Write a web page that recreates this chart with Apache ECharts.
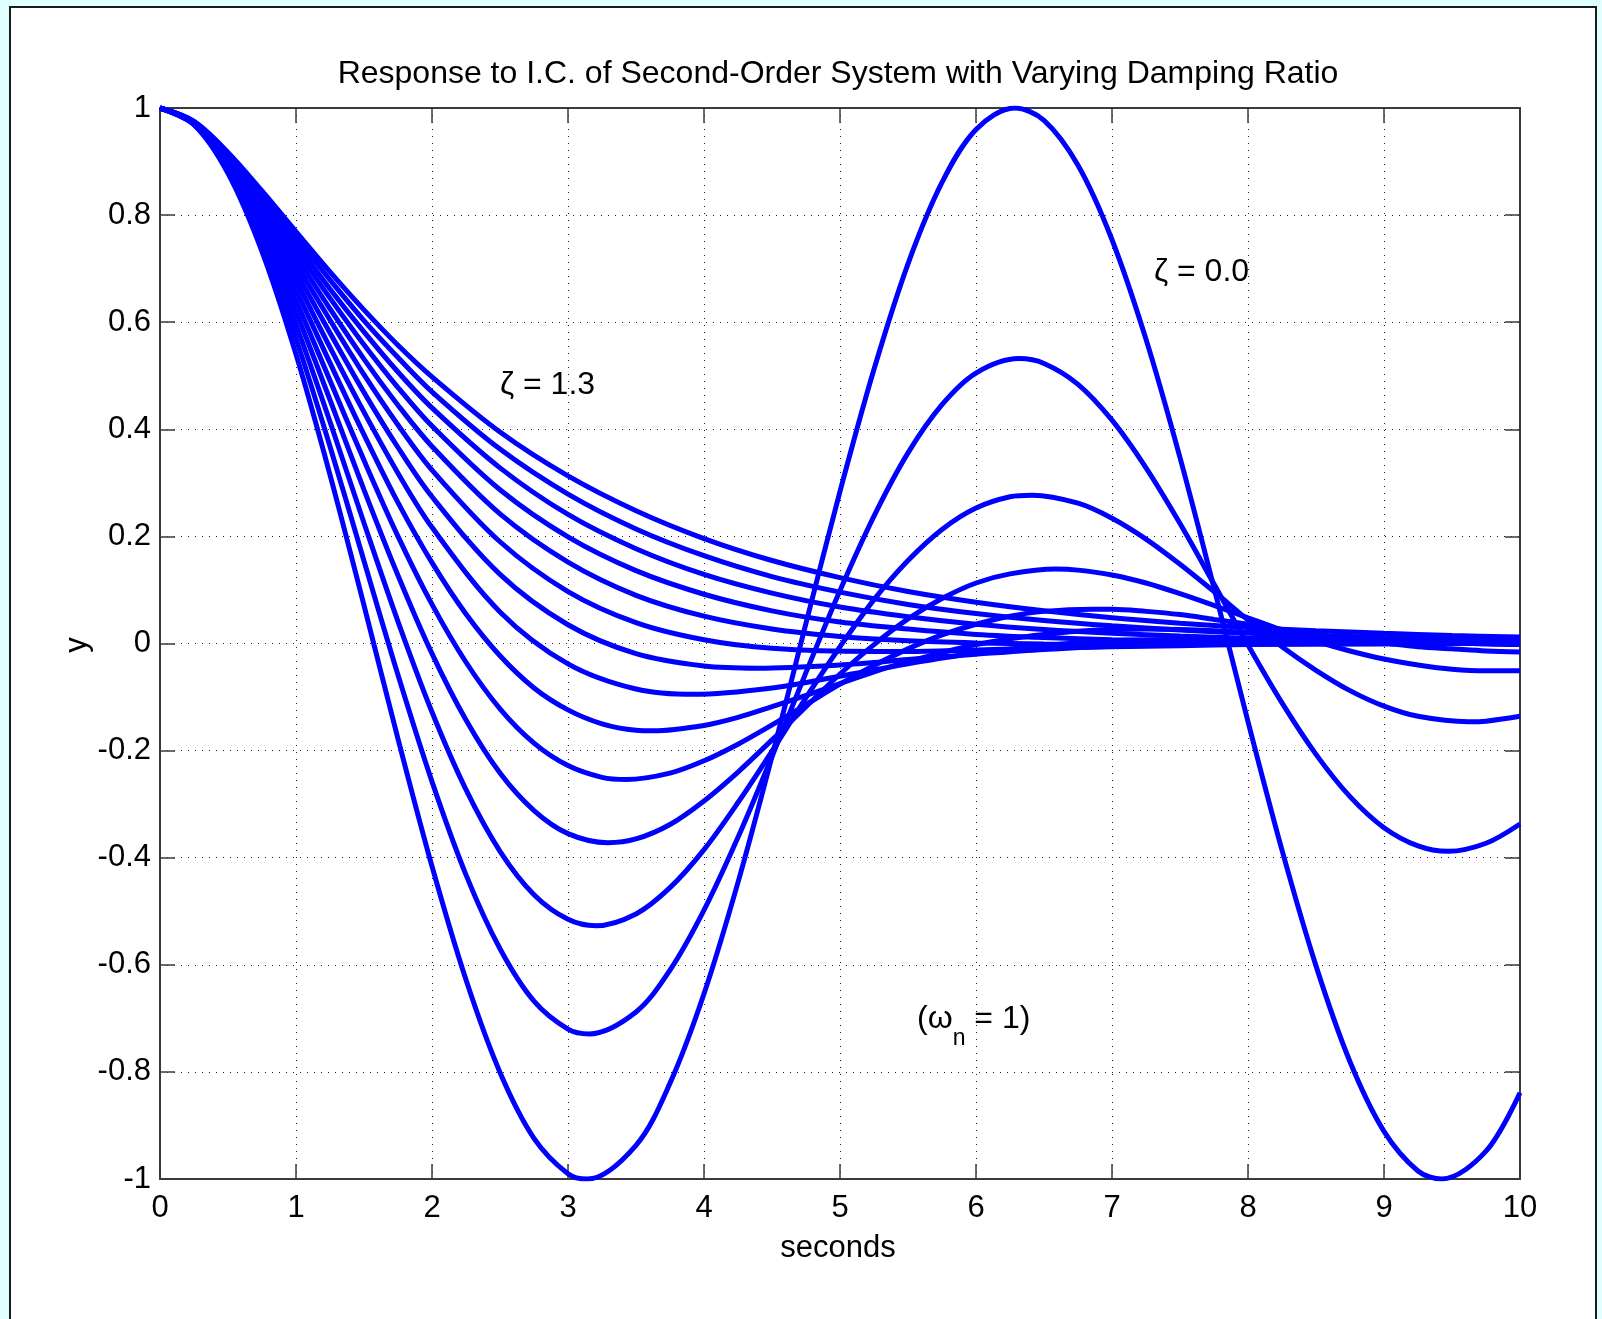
<!DOCTYPE html>
<html>
<head>
<meta charset="utf-8">
<title>Response to I.C. of Second-Order System with Varying Damping Ratio</title>
<script src="https://cdn.jsdelivr.net/npm/echarts@6.0.0/dist/echarts.min.js"></script>
<style>
  html, body { margin: 0; padding: 0; width: 1602px; height: 1319px; overflow: hidden; background: #e0ffff; }
  #frame { position: absolute; left: 9px; top: 6px; width: 1584px; height: 1400px; border: 2px solid #1a1a1a; background: #fff; }
  #chart { position: absolute; left: 0; top: 0; width: 1602px; height: 1319px; }
</style>
</head>
<body>
<div id="frame"></div>
<div id="chart"></div>
<script>
// tiempos de muestreo (segundos)
const tFine = [0, 0.25, 0.5, 0.75, 1, 1.25, 1.5, 1.75, 2, 2.25, 2.5, 2.75, 3, 3.25, 3.5, 3.75,
  4, 4.25, 4.5, 4.75, 5, 5.25, 5.5, 5.75, 6, 6.25, 6.5, 6.75, 7, 7.25, 7.5, 7.75,
  8, 8.25, 8.5, 8.75, 9, 9.25, 9.5, 9.75, 10];
const tMixed = [0, 0.25, 0.5, 0.75, 1, 1.25, 1.5, 1.75, 2, 2.5, 3, 3.5, 4, 4.5, 5, 5.5,
  6, 6.5, 7, 7.5, 8, 8.5, 9, 9.5, 10];

// respuesta y(t) para cada razon de amortiguamiento
const zeta00 = [1, 0.969, 0.878, 0.732, 0.540, 0.315, 0.071, -0.178, -0.416, -0.628, -0.801, -0.924, -0.990, -0.994, -0.937, -0.821,
  -0.654, -0.446, -0.211, 0.038, 0.284, 0.512, 0.709, 0.861, 0.960, 1.000, 0.977, 0.893, 0.754, 0.568, 0.347, 0.104,
  -0.146, -0.386, -0.602, -0.781, -0.911, -0.985, -0.997, -0.948, -0.839];
const zeta01 = [1, 0.969, 0.882, 0.745, 0.569, 0.368, 0.154, -0.059, -0.258, -0.432, -0.570, -0.668, -0.720, -0.726, -0.688, -0.610,
  -0.498, -0.362, -0.211, -0.054, 0.099, 0.238, 0.356, 0.446, 0.505, 0.531, 0.523, 0.484, 0.417, 0.328, 0.224, 0.111,
  -0.003, -0.111, -0.207, -0.286, -0.344, -0.378, -0.388, -0.373, -0.337];
const zeta02 = [1, 0.970, 0.885, 0.757, 0.595, 0.414, 0.225, 0.041, -0.128, -0.273, -0.388, -0.469, -0.515, -0.526, -0.505, -0.456,
  -0.385, -0.297, -0.201, -0.101, -0.006, 0.082, 0.155, 0.213, 0.253, 0.274, 0.276, 0.262, 0.234, 0.195, 0.148, 0.097,
  0.044, -0.006, -0.050, -0.088, -0.117, -0.136, -0.145, -0.145, -0.136];
const zeta03 = [1, 0.970, 0.889, 0.768, 0.619, 0.455, 0.287, 0.127, -0.019, -0.143, -0.242, -0.312, -0.355, -0.372, -0.365, -0.338,
  -0.294, -0.240, -0.180, -0.118, -0.057, -0.002, 0.046, 0.084, 0.113, 0.130, 0.138, 0.137, 0.128, 0.113, 0.093, 0.071,
  0.048, 0.025, 0.004, -0.014, -0.029, -0.040, -0.048, -0.051, -0.051];
const zeta04 = [1, 0.971, 0.892, 0.778, 0.640, 0.491, 0.342, 0.200, 0.073, -0.035, -0.122, -0.186, -0.228, -0.250, -0.253, -0.242,
  -0.219, -0.188, -0.152, -0.114, -0.076, -0.041, -0.010, 0.016, 0.036, 0.051, 0.060, 0.064, 0.064, 0.060, 0.054, 0.045,
  0.036, 0.026, 0.017, 0.008, 0.001, -0.006, -0.010, -0.014, -0.016];
const zeta05 = [1, 0.971, 0.896, 0.787, 0.660, 0.524, 0.390, 0.263, 0.151, 0.055, -0.023, -0.083, -0.124, -0.150, -0.162, -0.162,
  -0.153, -0.138, -0.118, -0.097, -0.075, -0.053, -0.034, -0.017, -0.002, 0.009, 0.017, 0.023, 0.026, 0.027, 0.026, 0.024,
  0.021, 0.018, 0.014, 0.010, 0.007, 0.004, 0.002, -0.001, -0.002];
const zeta06 = [1, 0.972, 0.899, 0.796, 0.678, 0.553, 0.432, 0.318, 0.217, 0.059, -0.038, -0.085, -0.095, -0.083, -0.061, -0.038,
  -0.018, -0.004, 0.005, 0.008, 0.009, 0.008, 0.005, 0.003, 0.002];
const zeta07 = [1, 0.972, 0.902, 0.805, 0.694, 0.580, 0.469, 0.366, 0.274, 0.129, 0.035, -0.019, -0.042, -0.046, -0.040, -0.030,
  -0.020, -0.011, -0.005, -0.001, 0.001, 0.002, 0.002, 0.002, 0.001];
const zeta08 = [1, 0.973, 0.905, 0.812, 0.709, 0.604, 0.502, 0.408, 0.324, 0.190, 0.097, 0.039, 0.007, -0.009, -0.015, -0.015,
  -0.012, -0.009, -0.006, -0.004, -0.002, -0.001, 0.000, 0.000, 0.000];
const zeta09 = [1, 0.973, 0.907, 0.820, 0.723, 0.625, 0.531, 0.445, 0.368, 0.242, 0.152, 0.090, 0.051, 0.027, 0.013, 0.005,
  0.001, -0.001, -0.002, -0.002, -0.001, -0.001, -0.001, 0.000, 0.000];
const zeta10 = [1, 0.974, 0.910, 0.827, 0.736, 0.645, 0.558, 0.478, 0.406, 0.287, 0.199, 0.136, 0.092, 0.061, 0.040, 0.027,
  0.017, 0.011, 0.007, 0.005, 0.003, 0.002, 0.001, 0.001, 0.000];
const zeta11 = [1, 0.974, 0.912, 0.833, 0.748, 0.662, 0.582, 0.507, 0.440, 0.328, 0.241, 0.177, 0.129, 0.094, 0.068, 0.050,
  0.036, 0.026, 0.019, 0.014, 0.010, 0.007, 0.005, 0.004, 0.003];
const zeta12 = [1, 0.974, 0.915, 0.839, 0.759, 0.679, 0.603, 0.534, 0.470, 0.363, 0.279, 0.214, 0.164, 0.125, 0.096, 0.073,
  0.056, 0.043, 0.033, 0.025, 0.019, 0.015, 0.011, 0.009, 0.007];
const zeta13 = [1, 0.975, 0.917, 0.845, 0.769, 0.694, 0.623, 0.557, 0.498, 0.395, 0.313, 0.248, 0.196, 0.155, 0.123, 0.097,
  0.077, 0.061, 0.048, 0.038, 0.030, 0.024, 0.019, 0.015, 0.012];

// picos y valles (tiempo, valor): sustituyen a la muestra mas cercana
const peaksT00 = [3.142, 6.283, 9.425]; const peaksY00 = [-1, 1, -1];
const peaksT01 = [3.157, 6.315, 9.472]; const peaksY01 = [-0.729, 0.532, -0.388];
const peaksT02 = [3.206, 6.413, 9.619]; const peaksY02 = [-0.527, 0.277, -0.146];
const peaksT03 = [3.293, 6.587]; const peaksY03 = [-0.372, 0.139];
const peaksT04 = [3.428, 6.856]; const peaksY04 = [-0.254, 0.064];
const peaksT05 = [3.628, 7.255]; const peaksY05 = [-0.163, 0.027];
const peaksT06 = [3.927, 7.854]; const peaksY06 = [-0.095, 0.009];
const peaksT07 = [4.399]; const peaksY07 = [-0.046];
const peaksT08 = [5.236]; const peaksY08 = [-0.015];

const curves = [
  [tFine, zeta00, peaksT00, peaksY00], [tFine, zeta01, peaksT01, peaksY01],
  [tFine, zeta02, peaksT02, peaksY02], [tFine, zeta03, peaksT03, peaksY03],
  [tFine, zeta04, peaksT04, peaksY04], [tFine, zeta05, peaksT05, peaksY05],
  [tMixed, zeta06, peaksT06, peaksY06], [tMixed, zeta07, peaksT07, peaksY07],
  [tMixed, zeta08, peaksT08, peaksY08], [tMixed, zeta09, [], []],
  [tMixed, zeta10, [], []], [tMixed, zeta11, [], []],
  [tMixed, zeta12, [], []], [tMixed, zeta13, [], []]
];

// arma los pares [t, y]; cada extremo reemplaza la muestra interior mas cercana
function buildSamples(t, y, pt, py) {
  const pts = t.map((v, i) => [v, y[i]]);
  pt.forEach((v, j) => {
    let best = 1;
    for (let i = 1; i < pts.length - 1; i++) {
      if (Math.abs(pts[i][0] - v) < Math.abs(pts[best][0] - v)) best = i;
    }
    pts[best] = [v, py[j]];
  });
  return pts;
}

const FONT = '"Liberation Sans", Arial, Helvetica, sans-serif';
const axisColor = '#3a3a3a';
const gridDots = { color: '#222', width: 1, type: [1, 6] };

function boxAxis(position, min, max, interval, withLabels) {
  return {
    type: 'value',
    position: position,
    min: min,
    max: max,
    interval: interval,
    axisLine: { show: true, onZero: false, lineStyle: { color: axisColor, width: 2 } },
    axisTick: { show: true, inside: true, length: 15, lineStyle: { color: axisColor, width: 1.5 } },
    axisLabel: withLabels
      ? { show: true, color: '#000', fontSize: 31, fontFamily: FONT,
          margin: (position === 'bottom') ? 14 : 9 }
      : { show: false },
    splitLine: withLabels ? { show: true, lineStyle: gridDots } : { show: false }
  };
}

const chart = echarts.init(document.getElementById('chart'), null, { renderer: 'canvas' });

const option = {
  animation: false,
  backgroundColor: 'transparent',
  grid: { left: 160, top: 108, width: 1360, height: 1071, containLabel: false, outerBoundsMode: 'none' },
  xAxis: [
    boxAxis('bottom', 0, 10, 1, true),
    boxAxis('top', 0, 10, 1, false)
  ],
  yAxis: [
    boxAxis('left', -1, 1, 0.2, true),
    boxAxis('right', -1, 1, 0.2, false)
  ],
  series: curves.map(c => ({
    type: 'line',
    xAxisIndex: 0,
    yAxisIndex: 0,
    data: buildSamples(c[0], c[1], c[2], c[3]),
    showSymbol: false,
    smooth: 0.33,
    silent: true,
    lineStyle: { color: '#0000ff', width: 5 }
  })),
  graphic: [
    { type: 'text', x: 838, y: 74,
      style: { text: 'Response to I.C. of Second-Order System with Varying Damping Ratio',
               font: '32px ' + FONT, fill: '#000', align: 'center', verticalAlign: 'middle' } },
    { type: 'text', x: 838, y: 1248,
      style: { text: 'seconds', font: '31px ' + FONT, fill: '#000', align: 'center', verticalAlign: 'middle' } },
    { type: 'text', x: 77, y: 645, rotation: Math.PI / 2,
      style: { text: 'y', font: '31px ' + FONT, fill: '#000', align: 'center', verticalAlign: 'middle' } },
    { type: 'text', x: 500, y: 385,
      style: { text: 'ζ = 1.3', font: '32px ' + FONT, fill: '#000', align: 'left', verticalAlign: 'middle' } },
    { type: 'text', x: 1154, y: 272,
      style: { text: 'ζ = 0.0', font: '32px ' + FONT, fill: '#000', align: 'left', verticalAlign: 'middle' } },
    { type: 'text', x: 917, y: 1003,
      style: {
        text: '{m|(ω}{s|n}{m| = 1)}',
        align: 'left', verticalAlign: 'top',
        rich: {
          m: { fontSize: 32, fontFamily: FONT, color: '#000', lineHeight: 30, verticalAlign: 'top' },
          s: { fontSize: 23, fontFamily: FONT, color: '#000', lineHeight: 23, verticalAlign: 'top', padding: [24, 0, 0, 0] }
        }
      } }
  ]
};

chart.setOption(option);
</script>
</body>
</html>
